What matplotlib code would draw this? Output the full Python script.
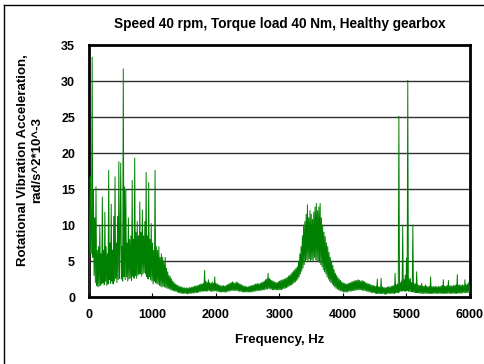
import numpy as np
import matplotlib
matplotlib.use("Agg")
import matplotlib.pyplot as plt
from matplotlib.lines import Line2D

plt.rcParams['font.family'] = ['Liberation Sans', 'DejaVu Sans']

title = "Speed 40 rpm, Torque load 40 Nm, Healthy gearbox"
xlabel = "Frequency, Hz"
ylabel = "Rotational Vibration Acceleration,\nrad/s^2*10^-3"

freq_start = 0
freq_step = 10
# amplitude readings, one every 10 Hz from 0 to 6000 Hz (20 per row = 200 Hz)
amplitude = [
    0.5, 12.0, 16.7, 6.0, 10.5, 33.3, 5.5, 14.9, 3.0, 11.0, 2.0, 15.3, 1.6, 6.5, 1.4, 7.0, 1.5, 9.8, 1.6, 6.0,
    1.8, 13.9, 2.0, 6.5, 1.7, 11.8, 2.2, 7.0, 1.6, 6.0, 1.8, 17.6, 2.4, 7.5, 1.9, 12.9, 2.2, 6.5, 1.8, 11.2,
    2.2, 16.7, 2.6, 7.5, 2.0, 11.2, 2.4, 18.8, 2.6, 8.0, 18.6, 2.5, 7.0, 2.2, 31.7, 2.8, 15.3, 2.4, 14.9, 2.8,
    7.5, 2.2, 11.0, 2.5, 8.0, 2.6, 8.5, 2.3, 16.2, 2.9, 8.0, 2.6, 19.3, 3.0, 9.0, 2.6, 10.5, 3.0, 8.5, 3.2,
    13.2, 3.2, 9.0, 2.9, 12.1, 3.2, 8.5, 3.4, 10.5, 3.2, 17.3, 2.8, 8.5, 2.5, 15.9, 2.8, 8.0, 2.4, 10.2, 2.2,
    7.5, 1.8, 6.5, 2.2, 17.6, 2.0, 7.0, 1.8, 6.5, 1.8, 7.0, 1.6, 5.5, 1.5, 6.0, 1.4, 5.5, 1.5, 4.8, 1.4,
    5.5, 1.3, 4.0, 1.2, 3.5, 1.2, 3.0, 1.1, 2.8, 1.0, 2.5, 0.9, 2.2, 0.9, 2.0, 0.8, 1.8, 0.8, 1.7, 0.7,
    1.6, 0.6, 1.5, 0.6, 1.4, 0.5, 1.4, 0.5, 1.3, 0.5, 1.3, 0.5, 1.2, 0.5, 1.3, 0.4, 1.2, 0.5, 1.3, 0.5,
    1.3, 0.5, 1.4, 0.6, 1.4, 0.5, 1.5, 0.6, 1.5, 0.6, 1.6, 0.6, 1.6, 0.7, 1.7, 0.7, 1.8, 0.8, 1.8, 0.8,
    1.9, 0.8, 3.7, 0.9, 2.2, 0.8, 2.0, 0.8, 2.4, 0.9, 2.0, 0.8, 1.9, 0.8, 2.1, 0.8, 1.9, 0.8, 2.8, 0.9,
    1.9, 0.8, 1.8, 0.8, 1.7, 0.7, 1.6, 0.7, 1.6, 0.7, 1.5, 0.7, 1.6, 0.7, 1.5, 0.7, 1.6, 0.7, 1.7, 0.8,
    1.8, 0.8, 1.9, 0.9, 2.0, 0.9, 2.1, 0.9, 2.0, 0.9, 1.9, 0.9, 2.1, 0.9, 2.0, 0.8, 1.9, 0.8, 1.8, 0.8,
    1.7, 0.7, 1.6, 0.7, 1.5, 0.7, 1.5, 0.7, 1.4, 0.7, 1.4, 0.7, 1.5, 0.7, 1.5, 0.7, 1.6, 0.7, 1.6, 0.8,
    1.7, 0.8, 1.8, 0.8, 1.8, 0.9, 1.9, 0.9, 1.8, 0.9, 1.9, 0.9, 2.0, 1.0, 2.1, 1.0, 2.2, 1.0, 2.4, 1.1,
    2.5, 1.1, 3.3, 1.2, 2.6, 1.1, 2.4, 1.1, 2.3, 1.0, 2.2, 1.0, 2.1, 1.0, 2.0, 1.0, 2.0, 1.0, 2.1, 1.0,
    2.2, 1.0, 2.3, 1.0, 2.4, 1.1, 2.4, 1.2, 2.5, 1.2, 2.6, 1.3, 2.7, 1.4, 2.9, 1.5, 3.0, 1.6, 3.2, 1.7,
    3.4, 1.8, 3.6, 2.0, 3.8, 2.1, 4.0, 2.3, 4.2, 2.5, 5.0, 2.8, 6.0, 3.2, 7.0, 3.6, 8.5, 4.0, 10.0, 4.5,
    10.5, 5.0, 11.5, 5.2, 12.8, 5.0, 11.0, 5.3, 12.0, 5.0, 11.5, 5.2, 10.8, 5.0, 11.8, 5.5, 12.5, 5.2, 13.0, 5.0,
    12.0, 5.0, 12.5, 4.8, 13.0, 4.5, 11.0, 4.2, 10.0, 3.8, 9.0, 3.5, 8.4, 3.2, 7.5, 2.8, 7.0, 2.5, 6.2, 2.2,
    5.5, 2.0, 5.0, 1.8, 4.4, 1.6, 3.8, 1.4, 3.3, 1.2, 3.0, 1.1, 2.7, 1.0, 2.5, 0.9, 2.3, 0.8, 2.1, 0.8,
    2.0, 0.7, 1.9, 0.7, 1.8, 0.7, 1.8, 0.7, 1.9, 0.8, 1.9, 0.8, 2.0, 0.8, 2.1, 0.9, 2.2, 0.9, 2.2, 0.9,
    2.3, 1.0, 2.3, 1.0, 2.4, 1.0, 2.3, 1.0, 2.2, 1.0, 2.3, 0.9, 2.2, 0.9, 2.1, 0.9, 2.0, 0.8, 1.9, 0.8,
    1.8, 0.7, 1.8, 0.7, 1.7, 0.6, 1.6, 0.6, 1.6, 0.6, 1.5, 0.5, 1.5, 0.5, 2.5, 0.5, 1.4, 0.5, 1.4, 0.5,
    2.6, 0.5, 1.4, 0.5, 1.3, 0.4, 1.3, 0.4, 1.3, 0.4, 1.4, 0.5, 1.4, 0.5, 1.4, 0.5, 1.5, 0.5, 1.5, 0.5,
    1.6, 0.5, 3.3, 0.6, 1.7, 0.6, 1.8, 0.6, 25.1, 0.7, 2.0, 0.8, 2.2, 0.8, 9.9, 0.9, 2.4, 0.8, 3.0, 0.8,
    5.4, 0.9, 30.1, 0.8, 2.5, 0.8, 2.6, 0.7, 2.0, 0.7, 10.0, 0.7, 1.9, 0.6, 1.8, 0.6, 3.5, 0.6, 1.7, 0.6,
    1.6, 0.5, 1.6, 0.5, 1.9, 0.5, 1.5, 0.5, 1.5, 0.5, 1.7, 0.5, 1.5, 0.5, 1.4, 0.5, 1.5, 0.5, 2.8, 0.5,
    1.4, 0.5, 1.5, 0.5, 1.4, 0.5, 1.5, 0.5, 1.4, 0.5, 1.5, 0.5, 1.4, 0.5, 1.5, 0.5, 1.6, 0.5, 2.4, 0.5,
    1.5, 0.5, 1.5, 0.5, 1.6, 0.5, 2.3, 0.5, 1.5, 0.5, 1.6, 0.5, 1.5, 0.5, 1.6, 0.5, 1.6, 0.5, 1.7, 0.5,
    3.1, 0.6, 1.6, 0.5, 1.7, 0.6, 1.6, 0.5, 1.7, 0.6, 1.6, 0.6, 2.4, 0.6, 1.7, 0.6, 1.8, 0.6, 2.0, 0.6,
    1.5,
]
frequency = freq_start + freq_step * np.arange(len(amplitude))

x_ticks = [0, 1000, 2000, 3000, 4000, 5000, 6000]
y_ticks = [0, 5, 10, 15, 20, 25, 30, 35]

fig = plt.figure(figsize=(4.85, 3.64), dpi=100)
ax = fig.add_axes([89/485, 1-297/364, (470-89)/485, (297-45)/364])

ax.plot(frequency, amplitude, color='#008000', lw=0.7, zorder=3)

ax.set_xlim(0, 6000)
ax.set_ylim(0, 35)
ax.set_xticks(x_ticks)
ax.set_yticks(y_ticks)
ax.set_xticklabels([str(t) for t in x_ticks], fontsize=9, fontweight='bold')
ax.set_yticklabels([str(t) for t in y_ticks], fontsize=9, fontweight='bold')
ax.tick_params(axis='x', direction='in', length=3, width=0.8, pad=9)
ax.tick_params(axis='y', length=0, pad=10)

for yv in y_ticks[1:-1]:
    ax.axhline(yv, color='#303030', lw=1.0, zorder=1)

for sp in ax.spines.values():
    sp.set_linewidth(2.0)
    sp.set_color('black')

ax.set_xlabel(xlabel, fontsize=9.5, fontweight='bold', labelpad=9)
ax.set_ylabel(ylabel, fontsize=9.5, fontweight='bold')
ax.yaxis.set_label_coords(-0.12, 0.545)
ax.set_title(title, fontsize=9.8, fontweight='bold', pad=12)

fig.add_artist(Line2D([4/485, 4/485], [0, 1-4.5/364], transform=fig.transFigure, color='black', lw=1))
fig.add_artist(Line2D([4/485, 1], [1-4.5/364, 1-4.5/364], transform=fig.transFigure, color='black', lw=1))

fig.savefig('out.png', dpi=100)
